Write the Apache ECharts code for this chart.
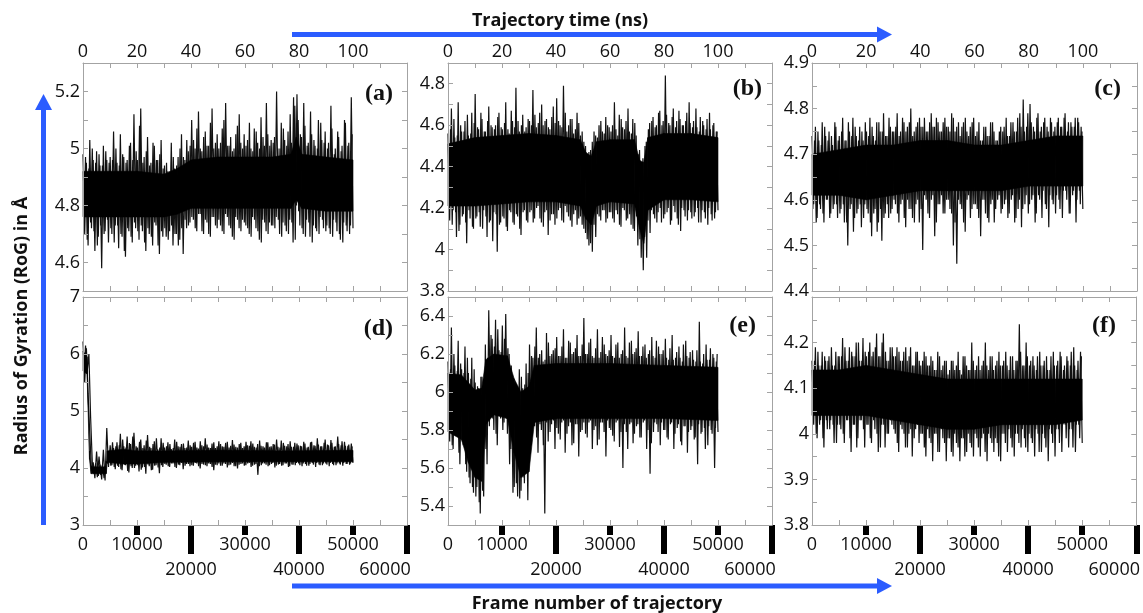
<!DOCTYPE html>
<html><head><meta charset="utf-8">
<script src="https://cdn.jsdelivr.net/npm/echarts@6/dist/echarts.min.js"></script>
<style>html,body{margin:0;padding:0;background:#fff}#c{width:1143px;height:613px}</style>
</head><body><div id="c"></div>
<script>
// ---- tick labels ----
const timeLabels = [0, 20, 40, 60, 80, 100];
const frameLabelsUpper = [0, 10000, 30000, 50000];
const frameLabelsLower = [20000, 40000, 60000];
const panelNames = ['(a)', '(b)', '(c)', '(d)', '(e)', '(f)'];
const yLabelsA = [4.6, 4.8, 5, 5.2];
const yLabelsB = [3.8, 4, 4.2, 4.4, 4.6, 4.8];
const yLabelsC = [4.4, 4.5, 4.6, 4.7, 4.8, 4.9];
const yLabelsD = [3, 4, 5, 6, 7];
const yLabelsE = [5.4, 5.6, 5.8, 6, 6.2, 6.4];
const yLabelsF = [3.8, 3.9, 4, 4.1, 4.2];
const lastFrame = 50000;
const framesPerNs = 500;

// ---- RoG traces (Å): samples on the even grid 0..50000 ----
const rogA = [
4.98,4.70,4.95,4.66,5.03,4.72,4.96,4.64,4.99,4.69,4.94,4.58,5.01,4.71,4.96,4.67,
4.97,4.70,5.06,4.73,4.95,4.65,5.05,4.69,4.97,4.62,4.96,4.71,5.02,4.67,5.12,4.72,
4.96,4.68,5.14,4.71,4.97,4.64,5.04,4.70,4.95,4.66,5.01,4.73,4.96,4.63,5.03,4.69,
4.94,4.69,4.92,4.71,5.02,4.66,4.93,4.70,4.97,4.68,5.05,4.63,4.96,4.72,4.99,4.74,
5.10,4.75,5.00,4.71,5.13,4.77,4.99,4.70,5.06,4.74,5.01,4.69,5.14,4.76,5.02,4.72,
5.00,4.73,5.07,4.70,5.16,4.76,5.01,4.72,4.99,4.68,5.05,4.75,5.12,4.71,5.00,4.74,
5.01,4.72,5.09,4.69,4.99,4.75,5.06,4.71,5.00,4.67,5.04,4.74,5.16,4.70,5.01,4.73,
5.02,4.72,5.20,4.75,5.00,4.69,5.07,4.73,5.01,4.70,5.12,4.74,5.18,4.68,5.19,4.78,
5.05,4.72,5.16,4.69,5.01,4.74,5.13,4.67,5.03,4.72,5.00,4.70,5.09,4.75,5.02,4.71,
5.00,4.72,5.15,4.69,4.98,4.74,5.06,4.70,4.99,4.67,5.10,4.73,5.01,4.70,5.18,4.72];
const rogB = [
4.56,4.14,4.68,4.19,4.54,4.06,4.71,4.12,4.57,4.17,4.62,4.03,4.55,4.15,4.66,4.10,
4.75,4.16,4.58,4.11,4.63,4.19,4.57,4.06,4.69,4.14,4.59,4.18,4.60,3.99,4.66,4.13,
4.58,4.15,4.71,4.09,4.56,4.18,4.62,4.12,4.78,4.16,4.57,4.07,4.65,4.19,4.59,4.13,
4.62,4.19,4.77,4.15,4.59,4.21,4.66,4.13,4.60,4.18,4.63,4.07,4.58,4.17,4.69,4.12,
4.73,4.19,4.60,4.14,4.79,4.21,4.57,4.16,4.63,4.11,4.56,4.19,4.66,4.15,4.55,4.12,
4.52,4.08,4.46,4.02,4.48,3.99,4.57,4.06,4.54,4.16,4.62,4.19,4.56,4.13,4.60,4.18,
4.57,4.15,4.71,4.19,4.55,4.12,4.63,4.20,4.58,4.14,4.68,4.17,4.56,4.10,4.61,4.16,
4.46,4.05,4.42,3.90,4.50,3.96,4.58,4.08,4.62,4.17,4.59,4.13,4.66,4.20,4.60,4.15,
4.84,4.18,4.61,4.12,4.64,4.21,4.59,4.15,4.67,4.09,4.60,4.19,4.62,4.14,4.71,4.18,
4.59,4.16,4.68,4.20,4.57,4.13,4.62,4.18,4.58,4.12,4.66,4.17,4.60,4.15,4.57,4.19];
const rogC = [
4.74,4.59,4.76,4.56,4.73,4.58,4.77,4.55,4.74,4.60,4.75,4.57,4.72,4.59,4.76,4.56,
4.74,4.58,4.78,4.55,4.73,4.50,4.75,4.59,4.78,4.56,4.74,4.58,4.76,4.54,4.73,4.59,
4.75,4.57,4.78,4.52,4.74,4.58,4.77,4.55,4.75,4.51,4.79,4.57,4.74,4.56,4.76,4.58,
4.75,4.59,4.79,4.55,4.75,4.60,4.77,4.54,4.76,4.58,4.80,4.56,4.75,4.59,4.77,4.55,
4.76,4.49,4.78,4.60,4.75,4.56,4.79,4.61,4.76,4.55,4.77,4.59,4.75,4.57,4.78,4.60,
4.76,4.58,4.79,4.50,4.75,4.46,4.77,4.59,4.76,4.55,4.78,4.60,4.74,4.56,4.77,4.59,
4.74,4.58,4.77,4.52,4.73,4.60,4.76,4.56,4.74,4.59,4.77,4.55,4.73,4.60,4.75,4.57,
4.75,4.59,4.78,4.56,4.74,4.60,4.77,4.55,4.75,4.58,4.79,4.54,4.82,4.59,4.76,4.57,
4.81,4.60,4.76,4.55,4.78,4.61,4.75,4.56,4.77,4.59,4.76,4.54,4.78,4.60,4.75,4.57,
4.77,4.60,4.76,4.56,4.78,4.62,4.75,4.57,4.77,4.61,4.76,4.55,4.78,4.62,4.76,4.58];
const rogD = [
6.22,5.50,6.10,5.30,4.60,3.95,4.10,3.82,4.29,3.86,4.06,3.80,4.32,3.78,4.70,4.02,4.40,4.05,4.35,3.98,
4.45,4.02,4.60,3.96,4.38,4.05,4.55,3.92,4.42,4.00,4.62,4.04,4.36,3.94,4.50,4.01,4.40,3.90,4.58,4.03,
4.35,3.97,4.47,4.05,4.33,3.91,4.52,4.02,
4.36,4.06,4.45,4.02,4.33,4.08,4.50,4.00,4.38,4.05,4.42,3.98,4.35,4.07,4.48,4.03,
4.37,4.04,4.46,4.08,4.34,3.99,4.40,4.06,4.52,4.03,4.36,4.07,4.43,3.96,4.35,4.05,
4.47,4.04,4.38,4.08,4.44,4.01,4.36,4.06,4.49,4.03,4.37,3.99,4.42,4.07,4.35,4.04,
4.46,4.08,4.39,4.02,4.43,4.06,4.36,3.88,4.48,4.05,4.38,4.08,4.45,4.03,4.37,4.07,
4.42,4.01,4.50,4.06,4.36,4.04,4.44,4.08,4.38,4.02,4.47,4.06,4.37,4.05,4.43,4.08,
4.39,4.03,4.46,4.07,4.36,4.04,4.45,4.09,4.40,4.02,4.52,4.06,4.38,4.05,4.44,4.08,
4.41,4.03,4.49,4.07,4.37,4.05,4.55,4.08,4.40,4.04,4.46,4.07,4.39,4.06,4.43,4.09];
const rogE = [
6.16,5.74,6.34,5.70,6.14,5.78,6.27,5.62,6.12,5.72,6.24,5.58,6.10,5.52,6.18,5.47,
6.05,5.50,6.02,5.36,6.08,5.45,6.25,5.62,6.43,5.88,6.28,5.80,6.38,5.72,6.22,5.86,
6.35,5.84,6.41,5.78,6.20,5.70,6.08,5.50,6.04,5.45,6.12,5.48,6.02,5.52,6.15,5.43,
6.25,5.75,6.18,5.82,6.34,5.68,6.20,5.80,6.16,5.36,6.31,5.74,6.19,5.83,6.22,5.70,
6.29,5.78,6.19,5.84,6.33,5.68,6.18,5.82,6.26,5.72,6.21,5.83,6.30,5.66,6.19,5.80,
6.39,5.78,6.20,5.84,6.28,5.70,6.18,5.82,6.33,5.75,6.21,5.84,6.25,5.66,6.19,5.81,
6.30,5.77,6.18,5.84,6.26,5.71,6.20,5.60,6.34,5.79,6.18,5.83,6.27,5.73,6.21,5.82,
6.32,5.76,6.19,5.84,6.25,5.70,6.20,5.57,6.29,5.79,6.18,5.83,6.24,5.72,6.20,5.80,
6.28,5.76,6.17,5.83,6.30,5.70,6.18,5.81,6.24,5.74,6.16,5.82,6.27,5.68,6.18,5.80,
6.22,5.75,6.16,5.62,6.37,5.78,6.15,5.81,6.25,5.72,6.17,5.80,6.20,5.60,6.16,5.79];
const rogF = [
4.16,4.02,4.19,3.99,4.15,4.03,4.18,3.97,4.16,4.01,4.17,4.03,4.15,3.98,4.18,4.02,
4.17,4.01,4.21,3.98,4.16,4.03,4.19,3.96,4.17,4.02,4.20,3.99,4.16,4.03,4.21,3.97,
4.17,4.02,4.20,3.98,4.18,4.01,4.22,3.96,4.17,4.02,4.22,3.97,4.16,4.00,4.19,4.02,
4.17,4.00,4.19,3.96,4.16,4.01,4.18,3.97,4.16,4.00,4.19,3.95,4.15,4.01,4.18,3.98,
4.15,4.00,4.18,3.95,4.15,3.99,4.17,3.94,4.14,4.00,4.18,3.96,4.14,3.99,4.16,3.94,
4.13,3.99,4.16,3.95,4.14,3.98,4.18,3.94,4.13,3.99,4.17,3.96,4.14,3.98,4.20,3.95,
4.14,3.99,4.17,3.95,4.15,4.00,4.20,3.94,4.14,3.99,4.17,3.96,4.15,3.98,4.18,3.94,
4.15,4.00,4.18,3.96,4.14,3.99,4.17,3.95,4.16,4.00,4.24,3.97,4.15,3.99,4.20,3.96,
4.15,3.99,4.17,3.95,4.14,4.00,4.18,3.96,4.15,3.99,4.17,3.94,4.14,4.00,4.18,3.95,
4.15,4.01,4.18,3.96,4.14,4.02,4.17,3.97,4.15,4.01,4.19,3.96,4.14,4.02,4.18,3.98];

// ---- RoG traces (Å): samples half-way between the samples above ----
const rogA2 = [
4.73,4.97,4.68,4.93,4.74,5.00,4.71,4.95,4.66,4.98,4.73,4.94,4.70,4.99,4.75,4.95,
4.72,4.96,4.67,5.00,4.73,4.94,4.70,4.98,4.64,4.95,4.72,5.01,4.69,4.96,4.74,4.99,
4.71,5.08,4.73,4.95,4.67,4.99,4.72,4.94,4.69,5.02,4.74,4.96,4.66,4.98,4.71,4.93,
4.72,4.95,4.68,4.92,4.73,4.97,4.70,4.94,4.66,5.00,4.72,4.97,4.75,5.03,4.73,5.01,
4.76,5.03,4.72,5.07,4.77,5.00,4.71,5.04,4.75,5.01,4.70,5.09,4.76,5.00,4.73,5.05,
4.75,5.02,4.71,5.10,4.77,5.01,4.73,5.04,4.69,5.00,4.76,5.08,4.72,5.02,4.75,5.05,
4.73,5.03,4.70,5.00,4.76,5.07,4.72,5.02,4.68,5.11,4.75,5.01,4.71,5.05,4.74,5.03,
4.73,5.04,4.76,5.00,4.70,5.09,4.74,5.03,4.71,5.06,4.75,5.02,4.67,5.15,4.80,5.10,
4.73,5.04,4.70,5.08,4.75,5.02,4.69,5.05,4.73,5.01,4.71,5.10,4.76,5.03,4.72,5.06,
4.73,5.02,4.70,5.07,4.75,5.00,4.71,5.04,4.68,5.01,4.74,5.09,4.71,5.02,4.73,5.05];
const rogB2 = [
4.17,4.58,4.12,4.63,4.18,4.55,4.09,4.60,4.16,4.57,4.13,4.65,4.19,4.56,4.11,4.61,
4.15,4.59,4.18,4.66,4.10,4.57,4.16,4.62,4.13,4.60,4.04,4.58,4.17,4.64,4.12,4.59,
4.16,4.61,4.11,4.58,4.19,4.67,4.13,4.59,4.17,4.62,4.10,4.60,4.18,4.57,4.14,4.63,
4.18,4.60,4.13,4.65,4.20,4.61,4.15,4.70,4.11,4.62,4.19,4.59,4.14,4.64,4.17,4.61,
4.15,4.62,4.20,4.59,4.13,4.66,4.18,4.60,4.14,4.63,4.17,4.58,4.12,4.61,4.16,4.57,
4.10,4.50,4.05,4.47,4.03,4.52,4.12,4.55,4.17,4.60,4.14,4.57,4.19,4.64,4.15,4.59,
4.18,4.60,4.13,4.58,4.17,4.65,4.11,4.59,4.19,4.62,4.15,4.57,4.12,4.63,4.09,4.55,
4.02,4.48,3.96,4.44,4.06,4.52,4.14,4.61,4.19,4.64,4.15,4.60,4.18,4.67,4.13,4.62,
4.17,4.65,4.20,4.60,4.14,4.68,4.18,4.62,4.12,4.63,4.20,4.60,4.16,4.66,4.19,4.61,
4.15,4.62,4.18,4.59,4.13,4.64,4.19,4.60,4.15,4.63,4.20,4.58,4.14,4.61,4.18,4.57];
const rogC2 = [
4.58,4.73,4.55,4.75,4.59,4.72,4.57,4.76,4.60,4.73,4.56,4.74,4.58,4.77,4.59,4.73,
4.57,4.75,4.59,4.73,4.55,4.77,4.58,4.74,4.53,4.76,4.57,4.73,4.59,4.75,4.56,4.77,
4.58,4.74,4.55,4.76,4.57,4.73,4.53,4.77,4.58,4.75,4.56,4.74,4.59,4.78,4.57,4.75,
4.60,4.76,4.57,4.74,4.59,4.78,4.56,4.75,4.60,4.77,4.58,4.74,4.55,4.76,4.60,4.78,
4.58,4.76,4.61,4.75,4.57,4.77,4.60,4.76,4.52,4.78,4.59,4.75,4.61,4.77,4.57,4.76,
4.60,4.75,4.57,4.78,4.55,4.76,4.60,4.74,4.58,4.77,4.53,4.75,4.61,4.76,4.58,4.78,
4.59,4.75,4.56,4.73,4.60,4.76,4.57,4.74,4.55,4.77,4.60,4.75,4.58,4.73,4.61,4.76,
4.58,4.76,4.60,4.74,4.57,4.77,4.61,4.75,4.56,4.78,4.60,4.76,4.58,4.75,4.61,4.79,
4.59,4.77,4.61,4.75,4.57,4.79,4.60,4.76,4.62,4.78,4.58,4.75,4.61,4.77,4.59,4.76,
4.61,4.78,4.58,4.76,4.62,4.79,4.60,4.77,4.57,4.76,4.62,4.78,4.60,4.77,4.59,4.75];
const rogD2 = [
5.60,6.15,5.70,6.00,4.90,4.10,3.90,4.08,3.84,4.20,3.88,4.05,3.82,4.12,4.08,4.30,4.04,4.45,4.02,4.38,
4.04,4.40,3.98,4.50,4.06,4.36,3.95,4.44,4.03,4.55,4.00,4.38,4.05,4.46,3.97,4.35,4.02,4.48,4.06,4.37,
3.96,4.42,4.04,4.52,4.01,4.36,4.05,4.44,
4.07,4.38,4.03,4.42,4.08,4.35,4.02,4.46,4.06,4.37,4.09,4.43,4.04,4.36,4.07,4.40,
4.05,4.44,4.09,4.36,4.03,4.47,4.07,4.38,4.05,4.41,4.08,4.35,4.02,4.45,4.06,4.38,
4.08,4.42,4.04,4.37,4.07,4.46,4.05,4.39,4.09,4.41,4.03,4.36,4.06,4.44,4.08,4.38,
4.05,4.40,4.09,4.47,4.04,4.37,4.07,4.42,4.03,4.39,4.08,4.36,4.06,4.45,4.05,4.38,
4.09,4.41,4.04,4.37,4.07,4.48,4.05,4.39,4.08,4.42,4.03,4.37,4.06,4.44,4.09,4.40,
4.05,4.38,4.08,4.43,4.04,4.37,4.07,4.46,4.06,4.39,4.09,4.41,4.05,4.38,4.08,4.50,
4.06,4.40,4.09,4.44,4.05,4.38,4.08,4.42,4.06,4.47,4.09,4.39,4.07,4.41,4.08,4.38];
const rogE2 = [
5.76,6.12,5.72,6.20,5.79,6.11,5.68,6.15,5.74,6.10,5.62,6.18,5.55,6.07,5.50,6.12,
5.45,6.03,5.42,6.08,5.48,6.02,5.70,6.18,5.82,6.30,5.86,6.24,5.78,6.33,5.88,6.21,
5.80,6.28,5.86,6.23,5.62,6.14,5.47,6.05,5.52,6.02,5.44,6.08,5.55,6.04,5.60,6.10,
5.80,6.19,5.85,6.24,5.76,6.18,5.83,6.22,5.72,6.17,5.84,6.26,5.79,6.20,5.85,6.23,
5.81,6.19,5.75,6.24,5.85,6.18,5.78,6.27,5.84,6.20,5.73,6.23,5.83,6.19,5.79,6.25,
5.84,6.20,5.76,6.26,5.85,6.19,5.80,6.23,5.72,6.18,5.84,6.29,5.79,6.20,5.85,6.22,
5.80,6.19,5.74,6.25,5.85,6.18,5.79,6.22,5.83,6.19,5.70,6.26,5.84,6.20,5.78,6.23,
5.83,6.19,5.76,6.24,5.85,6.18,5.80,6.22,5.73,6.19,5.84,6.27,5.79,6.20,5.84,6.22,
5.80,6.18,5.75,6.23,5.84,6.17,5.78,6.21,5.83,6.18,5.72,6.25,5.82,6.19,5.79,6.21,
5.82,6.17,5.76,6.22,5.83,6.16,5.79,6.20,5.70,6.17,5.82,6.23,5.78,6.18,5.81,6.20];
const rogF2 = [
4.03,4.16,4.00,4.18,4.02,4.15,3.99,4.17,4.03,4.16,4.01,4.19,4.02,4.15,3.98,4.17,
4.02,4.17,4.00,4.19,4.03,4.16,3.99,4.18,4.02,4.17,3.97,4.20,4.03,4.16,4.01,4.18,
4.02,4.18,3.99,4.17,4.03,4.19,4.00,4.17,3.97,4.20,4.02,4.18,4.00,4.16,4.03,4.19,
4.01,4.17,3.98,4.18,4.02,4.16,4.00,4.19,3.97,4.17,4.01,4.15,3.99,4.18,4.02,4.16,
4.00,4.16,3.97,4.17,4.01,4.15,3.98,4.16,4.00,4.14,3.96,4.17,4.01,4.15,3.98,4.16,
3.99,4.14,3.96,4.16,4.00,4.15,3.97,4.14,3.99,4.17,3.95,4.15,4.00,4.14,3.97,4.16,
4.00,4.15,3.97,4.14,3.99,4.16,3.96,4.15,4.00,4.17,3.98,4.14,3.99,4.16,3.95,4.15,
4.00,4.16,3.98,4.15,4.01,4.17,3.97,4.14,4.00,4.16,3.98,4.18,4.01,4.15,3.97,4.17,
4.00,4.16,3.98,4.15,4.01,4.17,3.96,4.15,4.00,4.16,3.97,4.14,4.01,4.17,3.98,4.15,
4.01,4.16,3.98,4.17,4.02,4.15,3.99,4.16,4.01,4.18,3.97,4.15,4.02,4.16,3.99,4.17];

// ---- solid inner part of each trace: [time ns, lower edge, upper edge] ----
const coreA = [[0,4.76,4.92],[10,4.76,4.92],[20,4.76,4.92],[30,4.76,4.91],[35,4.77,4.93],[40,4.79,4.96],[50,4.79,4.97],[60,4.79,4.97],[70,4.79,4.97],[77,4.79,4.98],[79,4.82,5.04],[81,4.79,4.98],[90,4.78,4.97],[100,4.78,4.96]];
const coreB = [[0,4.21,4.51],[10,4.21,4.54],[20,4.22,4.55],[30,4.23,4.56],[40,4.23,4.55],[49,4.21,4.53],[51,4.15,4.47],[53,4.12,4.45],[55,4.21,4.52],[60,4.23,4.53],[69,4.22,4.53],[71,4.10,4.43],[72.5,4.03,4.42],[74,4.19,4.54],[80,4.24,4.56],[90,4.24,4.56],[100,4.23,4.54]];
const coreC = [[0,4.61,4.70],[10,4.61,4.71],[20,4.60,4.72],[30,4.61,4.72],[40,4.62,4.73],[50,4.62,4.73],[60,4.62,4.72],[70,4.62,4.72],[80,4.63,4.73],[90,4.63,4.74],[100,4.63,4.74]];
const coreD = [[0,5.70,6.05],[1.5,5.65,5.95],[2.4,4.15,4.30],[3,3.90,4.02],[8.6,3.90,4.02],[9.0,4.10,4.30],[15,4.07,4.33],[20,4.07,4.30],[30,4.10,4.30],[50,4.11,4.31],[75,4.11,4.30],[100,4.11,4.31]];
const coreE = [[0,5.79,6.10],[5,5.75,6.09],[7.5,5.63,6.05],[10,5.55,6.01],[12.5,5.53,6.02],[14,5.83,6.17],[17,5.88,6.20],[22,5.86,6.19],[24.5,5.68,6.07],[27,5.55,6.00],[30,5.58,6.03],[32,5.84,6.14],[40,5.86,6.15],[60,5.86,6.15],[80,5.86,6.14],[100,5.85,6.13]];
const coreF = [[0,4.04,4.14],[10,4.04,4.14],[20,4.04,4.15],[30,4.03,4.14],[40,4.02,4.13],[50,4.01,4.12],[60,4.01,4.12],[70,4.02,4.12],[80,4.02,4.12],[90,4.02,4.12],[100,4.03,4.12]];

const traces = [rogA, rogB, rogC, rogD, rogE, rogF];
const traces2 = [rogA2, rogB2, rogC2, rogD2, rogE2, rogF2];
const cores = [coreA, coreB, coreC, coreD, coreE, coreF];
const yLabelSets = [yLabelsA, yLabelsB, yLabelsC, yLabelsD, yLabelsE, yLabelsF];
const yScales = [
  {min: 4.5, max: 5.3, interval: 0.1},
  {min: 3.8, max: 4.9, interval: 0.1},
  {min: 4.4, max: 4.9, interval: 0.05},
  {min: 3, max: 7, interval: 0.5},
  {min: 5.3, max: 6.5, interval: 0.1},
  {min: 3.8, max: 4.3, interval: 0.05}
];

// ---- layout ----
const colBox = [{left: 83, width: 324}, {left: 448, width: 324}, {left: 812, width: 325}];
const rowBox = [{top: 63, height: 228}, {top: 297, height: 228}];
const FONT = 'Open Sans';
const GREY = '#a3a3a3';
const labelStyle = {color: '#111', fontFamily: FONT, fontSize: 18};

const grid = [], xAxis = [], yAxis = [], series = [], graphic = [];
for (let p = 0; p < 6; p++) {
  const c = p % 3, r = Math.floor(p / 3);
  grid.push({left: colBox[c].left, width: colBox[c].width, top: rowBox[r].top, height: rowBox[r].height, containLabel: false});
  xAxis.push({
    type: 'value', gridIndex: p, position: 'top', min: 0, max: 120, interval: 10,
    axisLine: {show: true, onZero: false, lineStyle: {color: GREY, width: 1}},
    axisTick: {show: true, inside: true, length: 5, lineStyle: {color: GREY}},
    axisLabel: r === 0 ? Object.assign({show: true, margin: 2, customValues: timeLabels, formatter: v => String(v)}, labelStyle) : {show: false},
    splitLine: {show: false}, z: 5
  });
  const dataAxisIndex = xAxis.length;
  xAxis.push({
    type: 'value', gridIndex: p, position: 'bottom', min: 0, max: 60000, interval: 5000,
    axisLine: {show: true, onZero: false, lineStyle: {color: GREY, width: 1}},
    axisTick: {show: true, inside: true, length: 5, lineStyle: {color: GREY}},
    axisLabel: {show: false}, splitLine: {show: false}, z: 5
  });
  if (r === 1) {
    xAxis.push({
      type: 'value', gridIndex: p, position: 'bottom', min: 0, max: 60000, interval: 10000,
      axisLine: {show: false, onZero: false},
      axisTick: {show: true, inside: false, length: 10, customValues: [10000, 30000, 50000], lineStyle: {color: '#000', width: 6}},
      axisLabel: Object.assign({show: true, margin: 11, customValues: frameLabelsUpper, formatter: v => String(v)}, labelStyle),
      splitLine: {show: false}
    });
    xAxis.push({
      type: 'value', gridIndex: p, position: 'bottom', min: 0, max: 60000, interval: 10000,
      axisLine: {show: false, onZero: false},
      axisTick: {show: true, inside: false, length: 29, customValues: frameLabelsLower, lineStyle: {color: '#000', width: 6}},
      axisLabel: Object.assign({show: true, margin: 36, customValues: frameLabelsLower,
        formatter: v => v === 60000 ? '{s|' + v + '}' : String(v),
        rich: {s: {padding: [0, 44, 0, 0], color: '#111', fontFamily: FONT, fontSize: 18}}}, labelStyle),
      splitLine: {show: false}
    });
  }
  const ys = yScales[p];
  const leftIndex = yAxis.length;
  yAxis.push({
    type: 'value', gridIndex: p, position: 'left', min: ys.min, max: ys.max, interval: ys.interval,
    axisLine: {show: true, onZero: false, lineStyle: {color: GREY, width: 1}},
    axisTick: {show: true, inside: true, length: 5, lineStyle: {color: GREY}},
    axisLabel: Object.assign({show: true, margin: 3, customValues: yLabelSets[p]}, labelStyle),
    splitLine: {show: false}, z: 5
  });
  yAxis.push({
    type: 'value', gridIndex: p, position: 'right', min: ys.min, max: ys.max, interval: ys.interval,
    axisLine: {show: true, onZero: false, lineStyle: {color: GREY, width: 1}},
    axisTick: {show: true, inside: true, length: 5, lineStyle: {color: GREY}},
    axisLabel: {show: false}, splitLine: {show: false}, z: 5
  });
  const vals = traces[p];
  const step = lastFrame / (vals.length - 1);
  series.push({
    type: 'line', xAxisIndex: dataAxisIndex, yAxisIndex: leftIndex,
    data: vals.map((v, i) => [i * step, v]),
    showSymbol: false, symbol: 'none', silent: true, animation: false, z: 2,
    lineStyle: {color: '#111', width: 1.2}
  });
  const vals2 = traces2[p];
  const step2 = lastFrame / vals2.length;
  series.push({
    type: 'line', xAxisIndex: dataAxisIndex, yAxisIndex: leftIndex,
    data: vals2.map((v, i) => [(i + 0.5) * step2, v]),
    showSymbol: false, symbol: 'none', silent: true, animation: false, z: 2,
    lineStyle: {color: '#111', width: 1.2}
  });
  const core = cores[p];
  series.push({
    type: 'custom', xAxisIndex: dataAxisIndex, yAxisIndex: leftIndex, silent: true, animation: false, z: 3,
    data: core.map(d => [d[0] * framesPerNs, d[1], d[2]]),
    renderItem: function (params, api) {
      const i = params.dataIndex;
      if (i >= core.length - 1) return null;
      const a = core[i], b = core[i + 1];
      const pts = [
        api.coord([a[0] * framesPerNs, a[1]]), api.coord([b[0] * framesPerNs, b[1]]),
        api.coord([b[0] * framesPerNs, b[2]]), api.coord([a[0] * framesPerNs, a[2]])
      ];
      return {type: 'polygon', shape: {points: pts}, style: {fill: '#000', stroke: '#000', lineWidth: 0.6}};
    }
  });
}

const letterPos = [[393, 94], [762, 89], [1121, 89], [393, 329], [756, 326], [1116, 326]];
panelNames.forEach((t, i) => graphic.push({
  type: 'text', x: letterPos[i][0], y: letterPos[i][1],
  style: {text: t, fill: '#111', font: 'bold 24px "Liberation Serif"', align: 'right', verticalAlign: 'middle'}
}));
const BLUE = '#2b5cff';
graphic.push({type: 'rect', shape: {x: 292, y: 32, width: 586, height: 5}, style: {fill: BLUE}});
graphic.push({type: 'polygon', shape: {points: [[877, 26.5], [892, 34.5], [877, 42.5]]}, style: {fill: BLUE}});
graphic.push({type: 'rect', shape: {x: 292, y: 583.5, width: 586, height: 5}, style: {fill: BLUE}});
graphic.push({type: 'polygon', shape: {points: [[877, 578], [892, 586], [877, 594]]}, style: {fill: BLUE}});
graphic.push({type: 'rect', shape: {x: 41, y: 109, width: 5, height: 416}, style: {fill: BLUE}});
graphic.push({type: 'polygon', shape: {points: [[35, 110], [43.5, 94], [52, 110]]}, style: {fill: BLUE}});
graphic.push({type: 'text', x: 560, y: 21, style: {text: 'Trajectory time (ns)', fill: '#111', font: 'bold 18px "Open Sans"', align: 'center', verticalAlign: 'middle'}});
graphic.push({type: 'text', x: 597, y: 604, style: {text: 'Frame number of trajectory', fill: '#111', font: 'bold 18px "Open Sans"', align: 'center', verticalAlign: 'middle'}});
graphic.push({type: 'text', x: 22, y: 326, rotation: Math.PI / 2, style: {text: 'Radius of Gyration (RoG) in Å', fill: '#111', font: 'bold 18px "Open Sans"', align: 'center', verticalAlign: 'middle'}});

const chart = echarts.init(document.getElementById('c'), null, {renderer: 'canvas'});
chart.setOption({animation: false, backgroundColor: '#fff', grid, xAxis, yAxis, series, graphic});
</script></body></html>
